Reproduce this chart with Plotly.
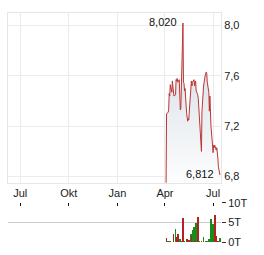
import pandas as pd
import plotly.graph_objects as go

dates = pd.bdate_range("2025-04-03", "2025-07-14")

prices = [
    6.70, 7.30, 7.31, 7.33, 7.46, 7.44, 7.53, 7.47, 7.56, 7.50, 7.52, 7.44, 7.45, 7.57, 7.56, 7.58, 7.55, 7.57, 7.38, 7.33,
    7.34, 7.55, 8.02, 7.55, 7.54, 7.48, 7.50, 7.30, 7.26, 7.24, 7.26, 7.25, 7.44, 7.50, 7.56, 7.52, 7.55, 7.57, 7.52, 7.55, 7.56, 7.48,
    7.45, 7.42, 7.35, 7.33, 7.25, 7.00, 7.32, 7.38, 7.44, 7.52, 7.60, 7.62, 7.63, 7.62, 7.55, 7.47, 7.32, 7.44, 7.30, 7.20, 7.05,
    6.99, 7.05, 7.03, 7.05, 7.01, 7.03, 7.00, 6.95, 6.88, 6.812,
]

volumes = [
    0, 1000, 300, 0, 0, 150, 0, 0, 0, 0, 2200, 0, 3300, 0, 1200, 0, 2000, 0, 700, 0,
    400, 0, 6100, 500, 0, 300, 0, 800, 0, 300, 0, 500, 0, 2000, 0, 1600, 3000, 4000, 300, 500, 0, 4800,
    0, 6400, 0, 400, 0, 400, 0, 0, 0, 1200, 0, 300, 0, 0, 200, 0, 800, 0, 0, 5800, 0,
    4600, 0, 0, 7000, 1600, 0, 0, 400, 0, 1000,
]

vol_dir = [
    "", "r", "g", "", "", "g", "", "", "", "", "r", "", "g", "", "r", "", "r", "", "g", "",
    "g", "", "r", "r", "", "g", "", "r", "", "g", "", "r", "", "g", "", "r", "g", "g", "r", "r", "", "g",
    "", "r", "", "g", "", "r", "", "", "", "g", "", "r", "", "", "g", "", "g", "", "", "g", "",
    "g", "", "", "r", "r", "", "", "r", "", "g",
]

tick_dates = ["2024-07-01", "2024-10-01", "2025-01-01", "2025-04-01", "2025-07-01"]
tick_labels = ["Jul", "Okt", "Jan", "Apr", "Jul"]
price_ticks = [6.8, 7.2, 7.6, 8.0]
vol_ticks = [0, 5000, 10000]
vol_tick_labels = ["0T", "5T", "10T"]

x_range = ["2024-06-08", "2025-07-16"]
font = "Liberation Sans, Arial, sans-serif"
txt = "#222222"

fig = go.Figure()
fig.add_trace(go.Scatter(
    x=dates, y=prices, mode="lines",
    line=dict(color="#bb3535", width=1),
    fill="tozeroy",
    fillgradient=dict(type="vertical", start=6.75, stop=8.0,
                      colorscale=[[0, "#ffffff"], [1, "#d2dae2"]]),
    xaxis="x", yaxis="y", hoverinfo="skip",
))

colors = ["#1a8a1a" if d == "g" else "#b22222" for d in vol_dir]
fig.add_trace(go.Bar(
    x=dates, y=volumes, marker=dict(color=colors, line=dict(width=0)),
    width=1.6 * 86400000, xaxis="x2", yaxis="y2", hoverinfo="skip",
))

imax = prices.index(max(prices))
fig.add_annotation(x=dates[imax], y=prices[imax], xref="x", yref="y",
                   text=f"{prices[imax]:.3f}".replace(".", ","), showarrow=False,
                   xanchor="right", yanchor="middle", xshift=-4, yshift=1,
                   font=dict(size=11, color="#111", family=font))
fig.add_annotation(x=dates[-1], y=prices[-1], xref="x", yref="y",
                   text=f"{prices[-1]:.3f}".replace(".", ","), showarrow=False,
                   xanchor="right", yanchor="middle", xshift=-4, yshift=1,
                   font=dict(size=11, color="#111", family=font))

fig.update_layout(
    width=264, height=255,
    margin=dict(l=8, r=43, t=7, b=8),
    paper_bgcolor="white", plot_bgcolor="white",
    showlegend=False, separators=",.",
    font=dict(family=font, size=11, color=txt),
    bargap=0,
    xaxis=dict(domain=[0, 1], range=x_range, type="date",
               tickvals=tick_dates, ticktext=tick_labels, ticks="",
               showgrid=True, gridcolor="#ebebeb", gridwidth=1,
               showline=True, mirror=True, linecolor="#e6e6e6",
               tickfont=dict(size=11, color=txt), anchor="y"),
    yaxis=dict(domain=[0.2583, 1], range=[6.75, 8.1], side="right",
               tickvals=price_ticks, tickformat=".1f", ticks="",
               showgrid=True, gridcolor="#ebebeb", zeroline=False,
               showline=True, mirror=True, linecolor="#e6e6e6",
               tickfont=dict(size=11, color=txt), anchor="x"),
    xaxis2=dict(domain=[0, 1], range=x_range, type="date", side="top",
                tickvals=tick_dates, ticks="inside", ticklen=3, tickwidth=1,
                tickcolor="#111", showticklabels=False, showgrid=False,
                showline=False, zeroline=False, anchor="y2"),
    yaxis2=dict(domain=[0, 0.171], range=[0, 10000], side="right",
                tickvals=vol_ticks, ticktext=vol_tick_labels,
                ticks="outside", ticklen=4, tickcolor="#333",
                showgrid=True, gridcolor="#cccccc", zeroline=False,
                showline=False, tickfont=dict(size=11, color=txt), anchor="x2"),
)

fig.write_html("out.html")
